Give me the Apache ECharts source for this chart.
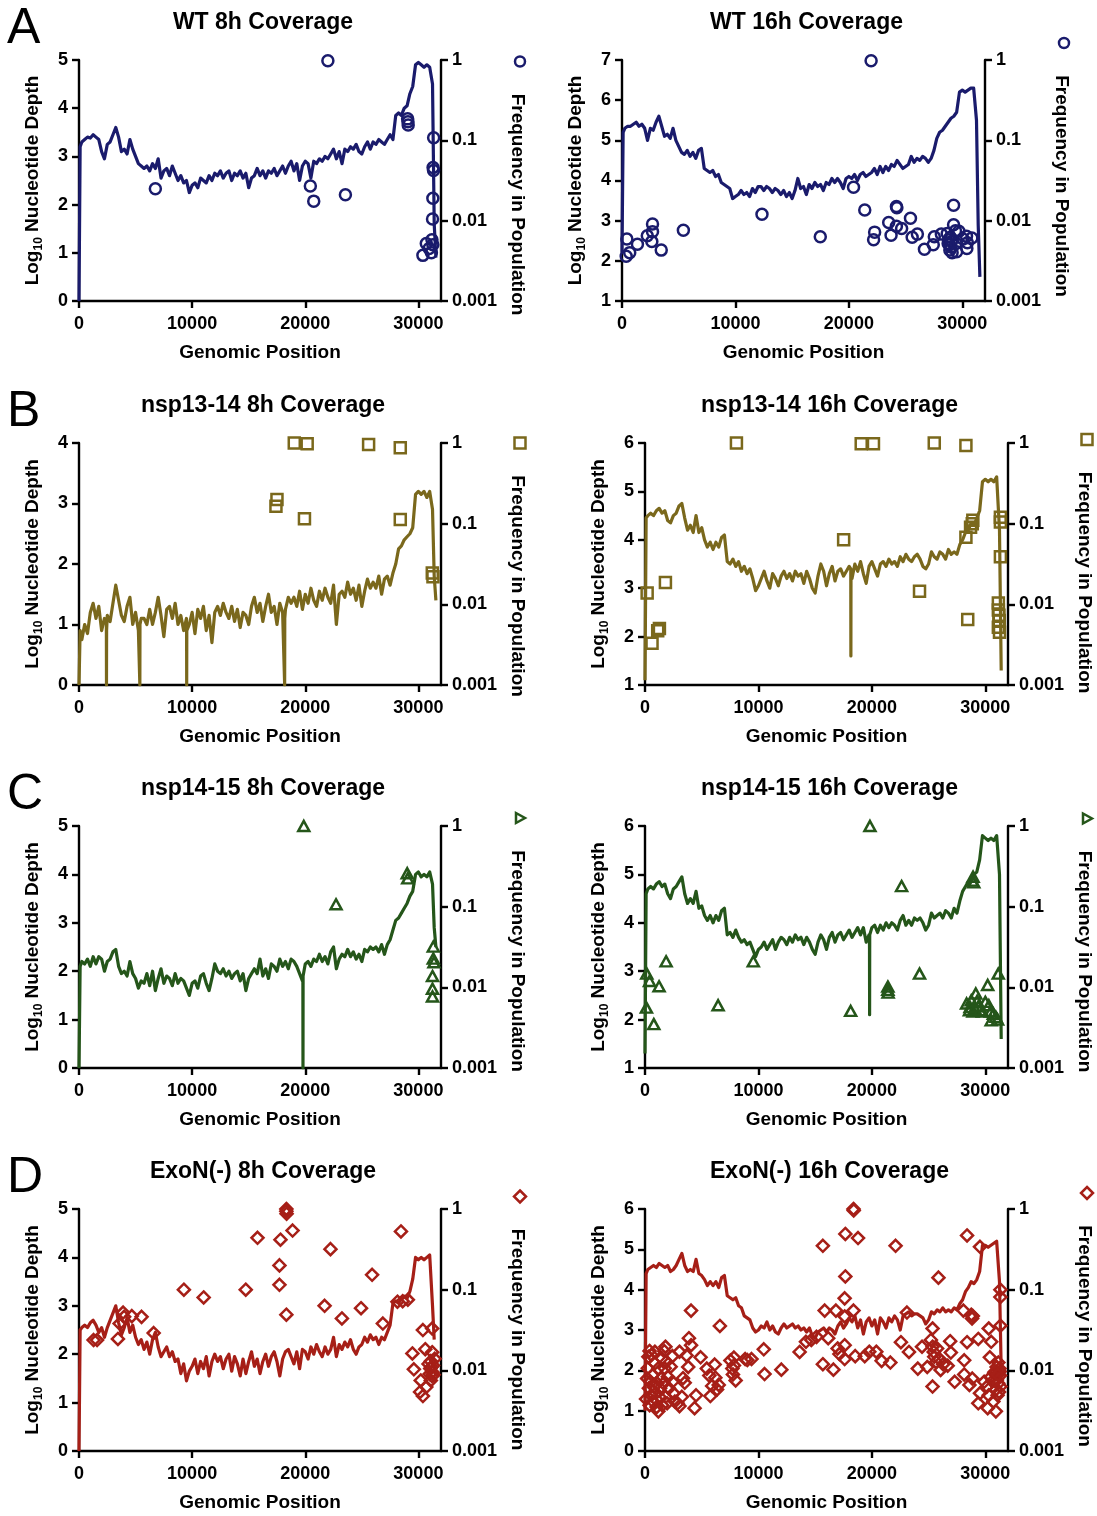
<!DOCTYPE html>
<html><head><meta charset="utf-8">
<script src="https://cdn.jsdelivr.net/npm/echarts@6/dist/echarts.min.js"></script>
<style>html,body{margin:0;padding:0;background:#fff}#c{width:1097px;height:1516px}</style>
</head><body><div id="c"></div>
<script>
// ---------- DATA ----------
const positions = [0,100,250,500,750,1000,1250,1500,1750,2000,2250,2500,2750,3000,3250,3500,3750,4000,4250,4500,4750,5000,5250,5500,5750,6000,6250,6500,6750,7000,7250,7500,7750,8000,8250,8500,8750,9000,9250,9500,9750,10000,10250,10500,10750,11000,11250,11500,11750,12000,12250,12500,12750,13000,13250,13500,13750,14000,14250,14500,14750,15000,15250,15500,15750,16000,16250,16500,16750,17000,17250,17500,17750,18000,18250,18500,18750,19000,19250,19500,19750,20000,20250,20500,20750,21000,21250,21500,21750,22000,22250,22500,22750,23000,23250,23500,23750,24000,24250,24500,24750,25000,25250,25500,25750,26000,26250,26500,26750,27000,27250,27500,27750,28000,28250,28500,28750,29000,29250,29500,29750,30000,30250,30500,30750,31000,31250,31400,31550];

const xTicks = [0,10000,20000,30000];
const freqTicks = [1,0.1,0.01,0.001];

const wt8Depth = [0,3.2,
3.3,3.35,3.4,3.38, 3.45,3.4,3.35,3.1, 2.95,3.25,3.3,3.45, 3.6,3.4,3.1,3.15, 3.05,3.35,3.15,3.0,
2.85,2.8,2.75,2.8, 2.7,2.85,2.75,2.95, 2.55,2.7,2.75,2.6, 2.8,2.65,2.5,2.6, 2.45,2.5,2.25,2.4,
2.45,2.35,2.55,2.5, 2.45,2.6,2.5,2.65, 2.6,2.7,2.55,2.65, 2.7,2.5,2.65,2.6, 2.7,2.55,2.65,2.35,
2.55,2.6,2.75,2.6, 2.7,2.55,2.7,2.65, 2.75,2.6,2.7,2.8, 2.65,2.8,2.9,2.7, 2.85,2.5,2.8,2.9,
2.85,2.55,2.9,2.85, 2.95,2.9,3.0,2.95, 3.05,3.15,2.95,3.1, 2.85,3.15,3.1,3.2, 3.15,3.25,3.1,3.05,
3.2,3.3,3.15,3.3, 3.25,3.35,3.3,3.25, 3.35,3.45,3.35,3.85, 3.9,3.85,4.0,4.05, 4.3,4.45,4.9,4.95,
4.9,4.85,4.9,4.85, 4.5,1.6,0.9];
const wt8Extra = [];
const wt8Var = [[22000,0.98],[6750,0.025],[20450,0.027],[20750,0.0175],[23550,0.021],[29050,0.185],[29080,0.17],[29100,0.155],[31350,0.108],[31300,0.046],[31340,0.042],[31280,0.019],[31250,0.0105],[30400,0.0037],[30700,0.0052],[30950,0.0045],[31200,0.0058],[31150,0.004],[31280,0.005]];

const wt16Depth = [2.2,5.2,
5.3,5.35,5.35,5.4, 5.45,5.35,5.4,5.3, 5.0,5.3,5.25,5.45, 5.6,5.35,5.1,5.15, 5.05,5.3,5.0,4.85,
4.7,4.65,4.75,4.6, 4.7,4.55,4.75,4.8, 4.3,4.25,4.2,4.25, 4.1,4.15,3.95,3.9, 3.85,3.8,3.55,3.6,
3.65,3.75,3.65,3.7, 3.6,3.8,3.7,3.85, 3.85,3.75,3.85,3.8, 3.7,3.8,3.75,3.65, 3.75,3.6,3.7,3.55,
3.75,4.05,3.8,3.85, 3.65,3.9,3.8,3.95, 3.85,3.9,3.75,3.95, 3.9,4.05,3.95,4.05, 3.95,3.8,4.05,4.1,
4.05,4.15,4.0,4.15, 4.2,4.1,4.15,4.2, 4.3,4.15,4.35,4.2, 4.35,4.25,4.4,4.35, 4.5,4.4,4.3,4.35,
4.4,4.6,4.45,4.55, 4.5,4.6,4.55,4.45, 4.55,4.75,5.05,5.2, 5.25,5.35,5.45,5.55, 5.6,5.7,6.2,6.25,
6.2,6.25,6.3,6.3, 5.5,2.9,1.6];
const wt16Extra = [];
const wt16Var = [[21960,0.98],[430,0.0059],[370,0.0036],[680,0.0040],[1360,0.0051],[2230,0.0065],[2690,0.0091],[2690,0.0073],[2630,0.0055],[3460,0.0043],[5410,0.0076],[12340,0.012],[17480,0.0063],[20410,0.026],[21400,0.0136],[22270,0.0072],[22180,0.0058],[23510,0.0095],[23720,0.0066],[24190,0.015],[24230,0.0145],[24190,0.0085],[24650,0.008],[25430,0.0107],[25580,0.0062],[26040,0.0068],[26660,0.0044],[27440,0.005],[27530,0.0063],[28150,0.0068],[28670,0.0069],[28800,0.0058],[28850,0.005],[28900,0.0043],[28950,0.0062],[29000,0.0047],[29050,0.0055],[28750,0.0052],[29100,0.004],[29230,0.0156],[29230,0.0089],[29400,0.0075],[29450,0.0052],[29500,0.0041],[29700,0.0074],[30060,0.0059],[30370,0.0064],[30450,0.0053],[30400,0.0045],[30840,0.0061]];

const nsp1314h8Depth = [0,0.9,
0.75,1.0,0.85,1.2, 1.35,1.1,1.3,0.9, 1.1,1.15,1.05,1.35, 1.65,1.4,1.15,1.05, 1.3,1.45,1.0,1.2,
0.9,1.1,1.1,1.0, 1.25,1.0,1.2,1.45, 1.15,0.8,1.25,1.3, 1.1,1.35,1.0,1.15, 0.9,1.1,1.0,1.2,
0.85,1.25,1.1,1.3, 0.9,1.15,0.7,1.2, 1.3,1.15,1.35,1.2, 1.1,1.3,1.05,1.25, 0.95,1.2,1.15,1.0,
1.3,1.45,1.2,1.35, 1.05,1.3,1.5,1.2, 1.3,1.0,1.35,1.2, 1.25,1.45,1.35,1.45, 1.3,1.55,1.25,1.5,
1.35,1.6,1.4,1.3, 1.55,1.4,1.6,1.45, 1.35,1.65,1.0,1.5, 1.55,1.45,1.7,1.5, 1.6,1.4,1.65,1.3,
1.55,1.75,1.6,1.7, 1.6,1.8,1.5,1.75, 1.8,1.65,1.85,2.0, 2.25,2.3,2.4,2.45, 2.5,2.6,3.15,3.2,
3.15,3.2,3.1,3.2, 2.9,1.8,1.4];
const nsp1314h8Extra = [[2420,1.0],[2430,0],[2440,0.9],[5370,0.9],[5380,0],[5390,1.0],[9510,1.0],[9520,0],[9530,0.9],[18170,1.2],[18180,0],[18190,1.1]];
const nsp1314h8Var = [[19030,1.0],[20170,0.98],[25600,0.96],[28400,0.875],[17500,0.2],[17410,0.164],[19930,0.115],[28400,0.113],[31230,0.0245],[31290,0.022]];

const nsp1314h16Depth = [1.1,4.45,
4.5,4.55,4.5,4.6, 4.65,4.55,4.6,4.4, 4.35,4.5,4.55,4.7, 4.75,4.45,4.2,4.3, 4.15,4.5,4.15,4.25,
4.0,3.85,3.95,3.8, 3.95,3.85,4.05,4.1, 3.55,3.5,3.6,3.45, 3.55,3.35,3.45,3.3, 3.4,3.2,2.95,3.05,
3.2,3.35,3.15,3.0, 3.3,3.2,3.05,3.25, 3.35,3.2,3.3,3.15, 3.35,3.25,3.3,3.1, 3.35,3.2,3.0,2.9,
3.25,3.5,3.35,3.05, 3.3,3.45,3.15,3.35, 3.4,3.25,3.35,3.45, 3.2,3.5,3.35,3.55, 3.3,3.1,3.45,3.55,
3.4,3.25,3.5,3.55, 3.45,3.6,3.5,3.55, 3.45,3.65,3.55,3.7, 3.6,3.55,3.65,3.7, 3.6,3.45,3.4,3.5,
3.75,3.65,3.6,3.75, 3.7,3.6,3.8,3.7, 3.75,3.7,3.9,4.0, 4.15,4.2,4.35,4.3, 4.45,4.6,5.2,5.25,
5.2,5.25,5.2,5.3, 4.2,1.3,null];
const nsp1314h16Extra = [[18140,3.4],[18150,1.6],[18160,3.35]];
const nsp1314h16Var = [[8060,1.0],[19060,0.98],[20140,0.98],[25500,1.0],[28290,0.93],[17510,0.063],[190,0.0138],[1800,0.0187],[620,0.0033],[1120,0.0047],[1270,0.005],[24200,0.0145],[28450,0.0065],[28290,0.068],[28700,0.09],[28900,0.11],[28850,0.1],[31330,0.12],[31330,0.105],[31330,0.039],[31150,0.0104],[31150,0.0085],[31200,0.0073],[31230,0.0063],[31150,0.0052],[31250,0.0045]];

const nsp1415h8Depth = [0,2.1,
2.2,2.15,2.25,2.1, 2.3,2.15,2.3,2.25, 2.0,2.2,2.25,2.4, 2.45,2.1,1.95,2.0, 1.9,2.2,1.95,1.85,
1.65,1.8,1.75,1.95, 1.7,2.0,1.6,1.85, 2.05,1.75,1.9,1.85, 1.7,1.95,1.75,1.85, 1.8,1.65,1.5,1.75,
1.8,1.65,1.9,1.95, 1.75,1.6,1.85,2.15, 2.0,1.95,2.05,1.9, 2.0,1.85,1.95,2.0, 1.8,1.95,1.6,1.85,
1.95,2.05,1.95,2.25, 1.9,2.05,1.85,2.15, 2.1,2.0,2.25,2.1, 2.2,2.05,2.25,2.2, 2.1,1.95,1.8,2.15,
2.2,2.1,2.25,2.2, 2.35,2.2,2.3,2.15, 2.4,2.5,2.05,2.25, 2.35,2.3,2.45,2.3, 2.4,2.25,2.35,2.2,
2.45,2.4,2.5,2.45, 2.5,2.4,2.55,2.35, 2.55,2.65,2.85,3.05, 3.1,3.2,3.3,3.4, 3.55,3.65,4.0,4.05,
3.95,4.0,3.95,4.05, 3.8,2.9,2.5];
const nsp1415h8Extra = [[19790,1.85],[19800,0],[19810,1.9]];
const nsp1415h8Var = [[19870,1.0],[22720,0.107],[29015,0.26],[29060,0.224],[31320,0.032],[31320,0.0227],[31380,0.0205],[31250,0.0138],[31250,0.0096],[31250,0.0077]];

const nsp1415h16Depth = [1.3,4.6,
4.7,4.75,4.7,4.8, 4.85,4.75,4.8,4.6, 4.5,4.7,4.75,4.85, 4.95,4.6,4.4,4.5, 4.4,4.65,4.3,4.35,
4.15,4.05,4.15,4.0, 4.15,4.05,4.25,4.3, 3.75,3.8,3.7,3.85, 3.7,3.6,3.65,3.55, 3.6,3.45,3.3,3.45,
3.5,3.6,3.45,3.55, 3.65,3.45,3.6,3.7, 3.65,3.55,3.7,3.6, 3.75,3.65,3.7,3.55, 3.7,3.6,3.45,3.35,
3.6,3.75,3.65,3.45, 3.7,3.8,3.6,3.75, 3.8,3.65,3.75,3.85, 3.7,3.8,3.9,3.75, 3.9,3.6,3.75,3.9,
3.95,3.8,3.95,3.85, 4.0,3.9,4.0,3.95, 3.85,4.05,4.15,3.95, 4.05,3.95,4.1,4.05, 4.1,4.0,3.85,3.95,
4.2,4.1,4.15,4.2, 4.1,4.25,4.2,4.1, 4.3,4.2,4.45,4.65, 4.75,4.85,4.9,5.0, 5.05,5.3,5.8,5.75,
5.7,5.75,5.7,5.8, 5.0,1.6,null];
const nsp1415h16Extra = [[19790,3.7],[19800,2.1],[19810,3.75]];
const nsp1415h16Var = [[19830,1.0],[22620,0.18],[155,0.0148],[400,0.012],[1240,0.0103],[1860,0.021],[124,0.0056],[775,0.0035],[9545,0.021],[6445,0.006],[18130,0.0051],[21410,0.0102],[21410,0.0093],[21430,0.0086],[24200,0.0148],[28860,0.21],[28920,0.235],[28980,0.2],[30210,0.0107],[31140,0.0148],[28350,0.0063],[28600,0.0052],[28760,0.0069],[28910,0.005],[29070,0.0055],[29160,0.0084],[29380,0.0058],[29750,0.005],[30000,0.0066],[30310,0.006],[30460,0.005],[30520,0.0039],[30710,0.0047],[30930,0.0043],[31080,0.004],[28660,0.0057],[29280,0.0068],[29530,0.0052]];

const exonh8Depth = [0,2.5,
2.55,2.6,2.55,2.65, 2.7,2.6,2.45,2.55, 2.35,2.55,2.7,2.85, 3.0,2.65,2.4,2.55, 2.75,2.45,2.6,2.35,
2.2,2.3,2.1,2.25, 2.0,2.3,2.45,2.15, 1.95,2.05,2.15,1.95, 2.05,1.85,1.9,1.6, 1.8,1.45,1.65,1.75,
1.9,1.6,1.85,1.7, 1.95,1.55,1.85,2.0, 1.85,1.95,1.7,1.9, 2.0,1.65,1.95,1.8, 1.55,1.9,1.6,1.85,
2.05,1.75,1.9,1.6, 1.85,2.0,1.75,1.95, 2.05,1.85,1.55,1.9, 2.05,2.1,1.95,1.8, 2.05,1.7,2.1,2.05,
1.9,2.15,2.0,2.2, 2.05,1.95,2.15,2.0, 2.1,2.35,1.95,2.2, 2.1,2.25,2.15,2.3, 2.1,2.0,2.15,2.2,
2.35,2.25,2.4,2.3, 2.35,2.2,2.35,2.3, 2.45,2.6,3.05,3.1, 3.05,3.15,3.2,3.15, 3.3,3.55,4.0,3.95,
4.0,3.95,4.0,4.05, 3.0,2.3,null];
const exonh8Extra = [];
const exonh8Var = [[18330,1.0],[18330,0.94],[18350,0.875],[15780,0.44],[17810,0.416],[18880,0.54],[28460,0.527],[22230,0.318],[17720,0.2],[25910,0.153],[9270,0.1],[11020,0.08],[14740,0.1],[17720,0.115],[18330,0.049],[21710,0.063],[23240,0.044],[24930,0.059],[26860,0.038],[1290,0.0237],[1600,0.0237],[3440,0.0245],[3590,0.038],[3900,0.052],[3990,0.046],[4670,0.047],[5530,0.046],[6600,0.029],[28150,0.071],[28610,0.072],[29070,0.075],[29470,0.0162],[29600,0.0103],[30400,0.0316],[30610,0.0183],[30210,0.0075],[30150,0.0054],[30400,0.0048],[30700,0.0062],[31220,0.033],[31220,0.0168],[31440,0.0139],[30900,0.012],[31000,0.009],[31050,0.0105],[31100,0.0075],[31150,0.011],[31200,0.0085],[31250,0.0095],[31300,0.0115],[31100,0.013],[31350,0.0088]];

const exonh16Depth = [1.0,4.4,
4.5,4.55,4.6,4.55, 4.65,4.6,4.55,4.6, 4.45,4.5,4.6,4.75, 4.9,4.6,4.45,4.5, 4.45,4.75,4.4,4.35,
4.25,4.1,4.2,4.1, 4.2,4.05,4.3,4.35, 3.85,3.8,3.75,3.8, 3.6,3.55,3.35,3.3, 3.25,3.05,2.95,3.0,
3.1,3.05,3.2,3.0, 3.1,2.95,2.9,3.05, 3.15,3.05,3.1,3.15, 3.05,3.1,3.0,3.05, 2.95,3.05,2.85,2.8,
2.95,3.0,3.05,2.95, 3.05,3.0,2.9,3.1, 3.2,3.05,3.15,3.3, 3.2,3.35,3.05,3.25, 2.9,3.2,3.3,3.1,
3.25,2.9,3.3,3.2, 3.05,3.3,3.2,3.35, 3.25,3.0,3.35,3.4, 3.45,3.35,3.4,3.4, 3.35,3.3,3.15,3.25,
3.45,3.4,3.5,3.45, 3.55,3.45,3.5,3.45, 3.55,3.5,3.65,3.75, 3.95,4.05,4.2,4.15, 4.25,4.45,5.1,5.1,
5.05,5.1,5.15,5.2, 4.2,2.0,null];
const exonh16Extra = [];
const exonh16Var = [[18380,1.0],[18400,0.96],[17660,0.49],[18780,0.436],[15680,0.35],[22090,0.35],[28390,0.47],[29530,0.34],[17660,0.146],[25870,0.141],[17600,0.078],[31330,0.1],[31330,0.081],[31330,0.0358],[4060,0.055],[6600,0.0355],[15840,0.055],[16830,0.055],[17600,0.0465],[18380,0.055],[23090,0.052],[28070,0.055],[28760,0.049],[28830,0.044],[28900,0.047],[25350,0.033],
[400,0.0174],[300,0.0147],[1800,0.0196],[2420,0.015],[3040,0.017],[3870,0.025],[4060,0.0205],[3660,0.0153],[3810,0.011],[3350,0.008],[3500,0.007],[3250,0.0047],[2880,0.0039],[3040,0.0036],[4500,0.0049],[4370,0.0034],[4900,0.0145],[5450,0.0105],[5670,0.0086],[5920,0.0064],[5760,0.0048],[6140,0.0118],[6200,0.0081],[6500,0.0066],[6350,0.0058],[7530,0.0132],[7700,0.0105],[7840,0.0115],[7750,0.0089],[7990,0.0075],[7840,0.0144],[8830,0.0138],[9020,0.0134],[9390,0.0138],[10470,0.0182],[10540,0.009],[12020,0.0102],[13630,0.0169],[14190,0.0226],[14660,0.0238],[15120,0.026],[15680,0.0119],[16150,0.025],[16610,0.0102],[16980,0.0187],[17140,0.0159],[17600,0.0205],[17600,0.0138],[18530,0.015],[19370,0.015],[19770,0.017],[20390,0.017],[20860,0.0131],[21630,0.0125],[22560,0.0223],[23270,0.0169],[24050,0.0105],[24420,0.0196],[24880,0.011],[25200,0.0238],[25350,0.0196],[25450,0.0169],[25500,0.0147],[25660,0.0127],[25350,0.0063],[25750,0.0187],[25970,0.0138],[26060,0.0101],[26280,0.0119],[26680,0.0114],[26900,0.023],[26960,0.0166],[27300,0.0072],[28140,0.0133],[28140,0.0089],[28390,0.0223],[28600,0.0066],[28850,0.0079],[29380,0.0245],[29380,0.0039],[29530,0.0052],
[30300,0.033],[30520,0.0226],[30400,0.0145],[29900,0.0072],[30150,0.0063],[30300,0.0049],[30460,0.0082],[30620,0.0073],[30710,0.0041],[30830,0.0091],[30930,0.0058],[31020,0.0076],[31080,0.0049],[31140,0.0069],[31210,0.0054],[31270,0.0097],[31300,0.0086],[31330,0.0063],[30930,0.0031],[30210,0.0034],[31000,0.011],[31150,0.0125],[31250,0.0105],[30800,0.0095],[31100,0.0088],
[93,0.0044],[186,0.0079],[248,0.0106],[341,0.006],[403,0.0037],[496,0.0072],[558,0.0049],[651,0.0087],[713,0.0041],[775,0.0062],[868,0.0122],[961,0.0052],[1023,0.0035],[1085,0.0069],[1178,0.0106],[1271,0.0047],[1333,0.006],[1426,0.0079],[1518,0.0037],[1642,0.0069],[1735,0.0106],[1828,0.0047],[1952,0.0039],[2014,0.0083],[2107,0.006],[558,0.0155],[868,0.017],[1488,0.0141],[1705,0.0173],[1890,0.0128],[2262,0.0111],[2417,0.0072],[2510,0.0052],[2634,0.0041],[1178,0.0031]];

// ---------- PANELS ----------
const NAVY = '#1a1b6c', OLIVE = '#7a681c', GREEN = '#25561a', RED = '#a61f17';
const panels = [
  {letter:'A', title:'WT 8h Coverage', depth:wt8Depth, extra:wt8Extra, vars:wt8Var, yMin:0, yMax:5, color:NAVY, sym:'circle'},
  {letter:'',  title:'WT 16h Coverage', depth:wt16Depth, extra:wt16Extra, vars:wt16Var, yMin:1, yMax:7, color:NAVY, sym:'circle'},
  {letter:'B', title:'nsp13-14 8h Coverage', depth:nsp1314h8Depth, extra:nsp1314h8Extra, vars:nsp1314h8Var, yMin:0, yMax:4, color:OLIVE, sym:'rect'},
  {letter:'',  title:'nsp13-14 16h Coverage', depth:nsp1314h16Depth, extra:nsp1314h16Extra, vars:nsp1314h16Var, yMin:1, yMax:6, color:OLIVE, sym:'rect'},
  {letter:'C', title:'nsp14-15 8h Coverage', depth:nsp1415h8Depth, extra:nsp1415h8Extra, vars:nsp1415h8Var, yMin:0, yMax:5, color:GREEN, sym:'triangle'},
  {letter:'',  title:'nsp14-15 16h Coverage', depth:nsp1415h16Depth, extra:nsp1415h16Extra, vars:nsp1415h16Var, yMin:1, yMax:6, color:GREEN, sym:'triangle'},
  {letter:'D', title:'ExoN(-) 8h Coverage', depth:exonh8Depth, extra:exonh8Extra, vars:exonh8Var, yMin:0, yMax:5, color:RED, sym:'diamond'},
  {letter:'',  title:'ExoN(-) 16h Coverage', depth:exonh16Depth, extra:exonh16Extra, vars:exonh16Var, yMin:0, yMax:6, color:RED, sym:'diamond'}
];
// layout (pixels)
const rowTop = [60, 443, 826, 1209];
const rowH = [241, 242, 242, 242];
const colLeft = [[79, 622],[79, 645],[79, 645],[79, 645]];
const colW = [362, 363];
const nameShift = [24, 5.5, 22, 18.5, 14, 14.5, 9.5, 6];
const symSize = {circle:11, rect:11, triangle:[11,10], diamond:12};

const FONT = '"Liberation Sans", Arial, Helvetica, sans-serif';
const axisTxt = {color:'#000', fontSize:18, fontWeight:'bold', fontFamily:FONT};
const nameTxt = {color:'#000', fontSize:19, fontWeight:'bold', fontFamily:FONT};

const option = {animation:false, backgroundColor:'#fff', title:[], grid:[], xAxis:[], yAxis:[], series:[], graphic:[]};

function fmtFreq(v){ return String(+Number(v).toPrecision(1)); }

panels.forEach((p, i) => {
  const r = Math.floor(i/2), c = i % 2;
  const left = colLeft[r][c], top = rowTop[r], w = colW[c], h = rowH[r];
  option.grid.push({left:left, top:top, width:w, height:h});
  option.title.push({text:p.title, left:left + w/2 - 2, top:top - 54, textAlign:'center',
    textStyle:{color:'#000', fontSize:23, fontWeight:'bold', fontFamily:FONT}});
  if (p.letter) option.graphic.push({type:'text', left:7, top:top - 56,
    style:{text:p.letter, fill:'#000', font:'normal 50px ' + FONT}});
  const line = {show:true, onZero:false, lineStyle:{color:'#000', width:2.4}};
  const tick = {show:true, inside:false, length:7, lineStyle:{color:'#000', width:2.4}};
  option.xAxis.push({gridIndex:i, type:'value', min:0, max:32000, interval:10000,
    axisLine:line, axisTick:tick, splitLine:{show:false},
    axisLabel:Object.assign({margin:14, showMaxLabel:false, formatter:v => xTicks.includes(v) ? String(v) : ''}, axisTxt),
    name:'Genomic Position', nameLocation:'middle', nameGap:42, nameTextStyle:nameTxt});
  option.yAxis.push({gridIndex:i, type:'value', position:'left', min:p.yMin, max:p.yMax, interval:1,
    axisLine:line, axisTick:tick, splitLine:{show:false},
    axisLabel:Object.assign({margin:11}, axisTxt),
    name:'Log{s|10} Nucleotide Depth', nameLocation:'middle', nameRotate:90, nameGap:34,
    nameTextStyle:Object.assign({lineHeight:24, rich:{s:{fontSize:12, fontWeight:'bold', fontFamily:FONT, color:'#000', verticalAlign:'bottom', lineHeight:12}}}, nameTxt)});
  const s = nameShift[i];
  option.yAxis.push({gridIndex:i, type:'log', logBase:10, position:'right', min:0.001, max:1,
    axisLine:line, axisTick:tick, splitLine:{show:false}, minorTick:{show:false},
    axisLabel:Object.assign({margin:11, formatter:v => { const t = fmtFreq(v); return freqTicks.map(String).includes(t) ? t : ''; }}, axisTxt),
    name:'Frequency in Population', nameLocation:'middle', nameRotate:-90, nameGap:67,
    nameTextStyle:Object.assign({padding:[0,0,0,2*s]}, nameTxt)});

  // legend marker next to the right-axis title
  const mx = left + w + 79, my = top + h/2 + s - 113 - 30;
  const st = {fill:'none', stroke:p.color, lineWidth:2.5};
  if (p.sym === 'circle') option.graphic.push({type:'circle', shape:{cx:mx, cy:my, r:5}, style:st});
  else if (p.sym === 'rect') option.graphic.push({type:'rect', shape:{x:mx-5.5, y:my-5.5, width:11, height:11}, style:st});
  else if (p.sym === 'triangle') option.graphic.push({type:'polygon', shape:{points:[[mx-4,my-5],[mx+5,my],[mx-4,my+5]]}, style:st});
  else option.graphic.push({type:'polygon', shape:{points:[[mx,my-6],[mx+6,my],[mx,my+6],[mx-6,my]]}, style:st});

  const pts = positions.map((x, k) => [x, p.depth[k]]).concat(p.extra);
  pts.sort((a, b) => a[0] - b[0]);
  option.series.push({type:'line', xAxisIndex:i, yAxisIndex:2*i, data:pts, showSymbol:false,
    lineStyle:{color:p.color, width:3.2, join:'round'}, z:2});
  option.series.push({type:'scatter', xAxisIndex:i, yAxisIndex:2*i+1, data:p.vars, symbol:p.sym,
    symbolSize:symSize[p.sym], itemStyle:{color:'rgba(0,0,0,0)', borderColor:p.color, borderWidth:2.5, opacity:1}, z:3});
});

const chart = echarts.init(document.getElementById('c'), null, {renderer:'canvas'});
chart.setOption(option);
</script>
</body></html>
